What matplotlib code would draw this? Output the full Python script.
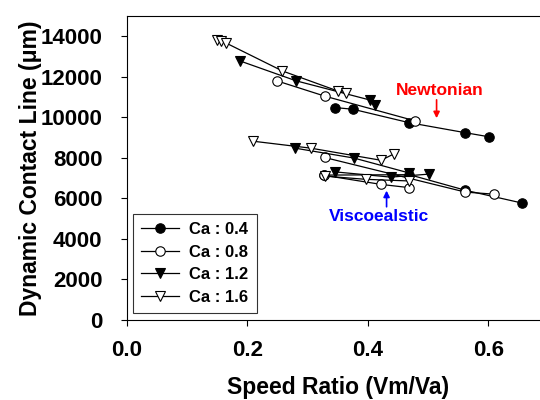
import matplotlib
matplotlib.use('Agg')
import matplotlib.pyplot as plt

plt.rcParams['font.family'] = ['Liberation Sans', 'DejaVu Sans']
plt.rcParams['font.weight'] = 'bold'

# Newtonian branch (upper curves)
newt_x_04 = [0.346, 0.375, 0.468, 0.562, 0.601]
newt_y_04 = [10480, 10400, 9740, 9240, 9040]
newt_x_08 = [0.249, 0.328, 0.479]
newt_y_08 = [11800, 11050, 9820]
newt_x_12 = [0.187, 0.281, 0.404, 0.411]
newt_y_12 = [12790, 11800, 10850, 10590]
newt_x_16 = [0.150, 0.156, 0.165, 0.258, 0.350, 0.363]
newt_y_16 = [13820, 13760, 13660, 12290, 11300, 11220]

# Viscoelastic branch (lower curves)
visc_x_04 = [0.327, 0.469, 0.562, 0.656]
visc_y_04 = [7150, 7170, 6400, 5770]
visc_x_08a = [0.328, 0.562, 0.609]
visc_y_08a = [8020, 6310, 6210]
visc_x_08b = [0.327, 0.422, 0.469]
visc_y_08b = [7140, 6690, 6530]
visc_x_12a = [0.279, 0.377, 0.469]
visc_y_12a = [8480, 7990, 7250]
visc_x_12b = [0.345, 0.438, 0.502]
visc_y_12b = [7310, 7050, 7200]
visc_x_16a = [0.210, 0.305, 0.422, 0.444]
visc_y_16a = [8820, 8480, 7880, 8210]
visc_x_16b = [0.328, 0.397, 0.469]
visc_y_16b = [7100, 6940, 6860]

labels = ['Ca : 0.4', 'Ca : 0.8', 'Ca : 1.2', 'Ca : 1.6']

# marker style per Ca
styles = [dict(marker='o', mfc='black'),
          dict(marker='o', mfc='white'),
          dict(marker='v', mfc='black'),
          dict(marker='v', mfc='white')]

fig = plt.figure(figsize=(5.4, 4.0), dpi=100)
ax = fig.add_axes([0.235, 0.2, 0.781, 0.76])

common = dict(color='black', mec='black', lw=0.9, ms=6.8, mew=0.8)

series = [
    (0, newt_x_04, newt_y_04), (1, newt_x_08, newt_y_08),
    (2, newt_x_12, newt_y_12), (3, newt_x_16, newt_y_16),
    (0, visc_x_04, visc_y_04), (1, visc_x_08a, visc_y_08a),
    (1, visc_x_08b, visc_y_08b), (2, visc_x_12a, visc_y_12a),
    (2, visc_x_12b, visc_y_12b), (3, visc_x_16a, visc_y_16a),
    (3, visc_x_16b, visc_y_16b),
]

handles = [None] * 4
for k, xs, ys in series:
    ln, = ax.plot(xs, ys, **styles[k], **common)
    if handles[k] is None:
        handles[k] = ln

ax.annotate('', xy=(0.514, 9820), xytext=(0.514, 11000),
            arrowprops=dict(arrowstyle='-|>', color='#ff0000', lw=1.2,
                            mutation_scale=9))
ax.text(0.52, 11300, 'Newtonian', color='#ff0000', fontsize=12.5,
        fontweight='bold', ha='center', va='center')

ax.annotate('', xy=(0.431, 6520), xytext=(0.431, 5450),
            arrowprops=dict(arrowstyle='-|>', color='#0000ff', lw=1.2,
                            mutation_scale=9))
ax.text(0.418, 5100, 'Viscoealstic', color='#0000ff', fontsize=12.5,
        fontweight='bold', ha='center', va='center')

ax.set_xlim(0, 0.7)
ax.set_ylim(0, 15000)
ax.set_xticks([0.0, 0.2, 0.4, 0.6])
ax.set_xticklabels(['0.0', '0.2', '0.4', '0.6'])
ax.set_yticks(range(0, 14001, 2000))
ax.tick_params(direction='out', length=4.5, width=0.8, labelsize=16,
               top=False, right=False)
ax.tick_params(axis='x', pad=10)
ax.tick_params(axis='y', pad=13)
for s in ax.spines.values():
    s.set_linewidth(0.8)
ax.spines['right'].set_visible(False)

ax.set_xlabel('Speed Ratio (Vm/Va)', fontsize=16.5, fontweight='bold', labelpad=11)
ax.set_ylabel('Dynamic Contact Line (\u03bcm)', fontsize=16.5, fontweight='bold',
              labelpad=-1)

leg = ax.legend(handles, labels, loc='lower left', bbox_to_anchor=(0.014, 0.023),
                borderaxespad=0, fontsize=12, frameon=True, fancybox=False,
                edgecolor='black', handlelength=2.3, labelspacing=0.45,
                borderpad=0.5, handletextpad=0.6)
leg.get_frame().set_linewidth(0.8)
for t in leg.get_texts():
    t.set_fontweight('bold')

plt.savefig('out.png', dpi=100)
